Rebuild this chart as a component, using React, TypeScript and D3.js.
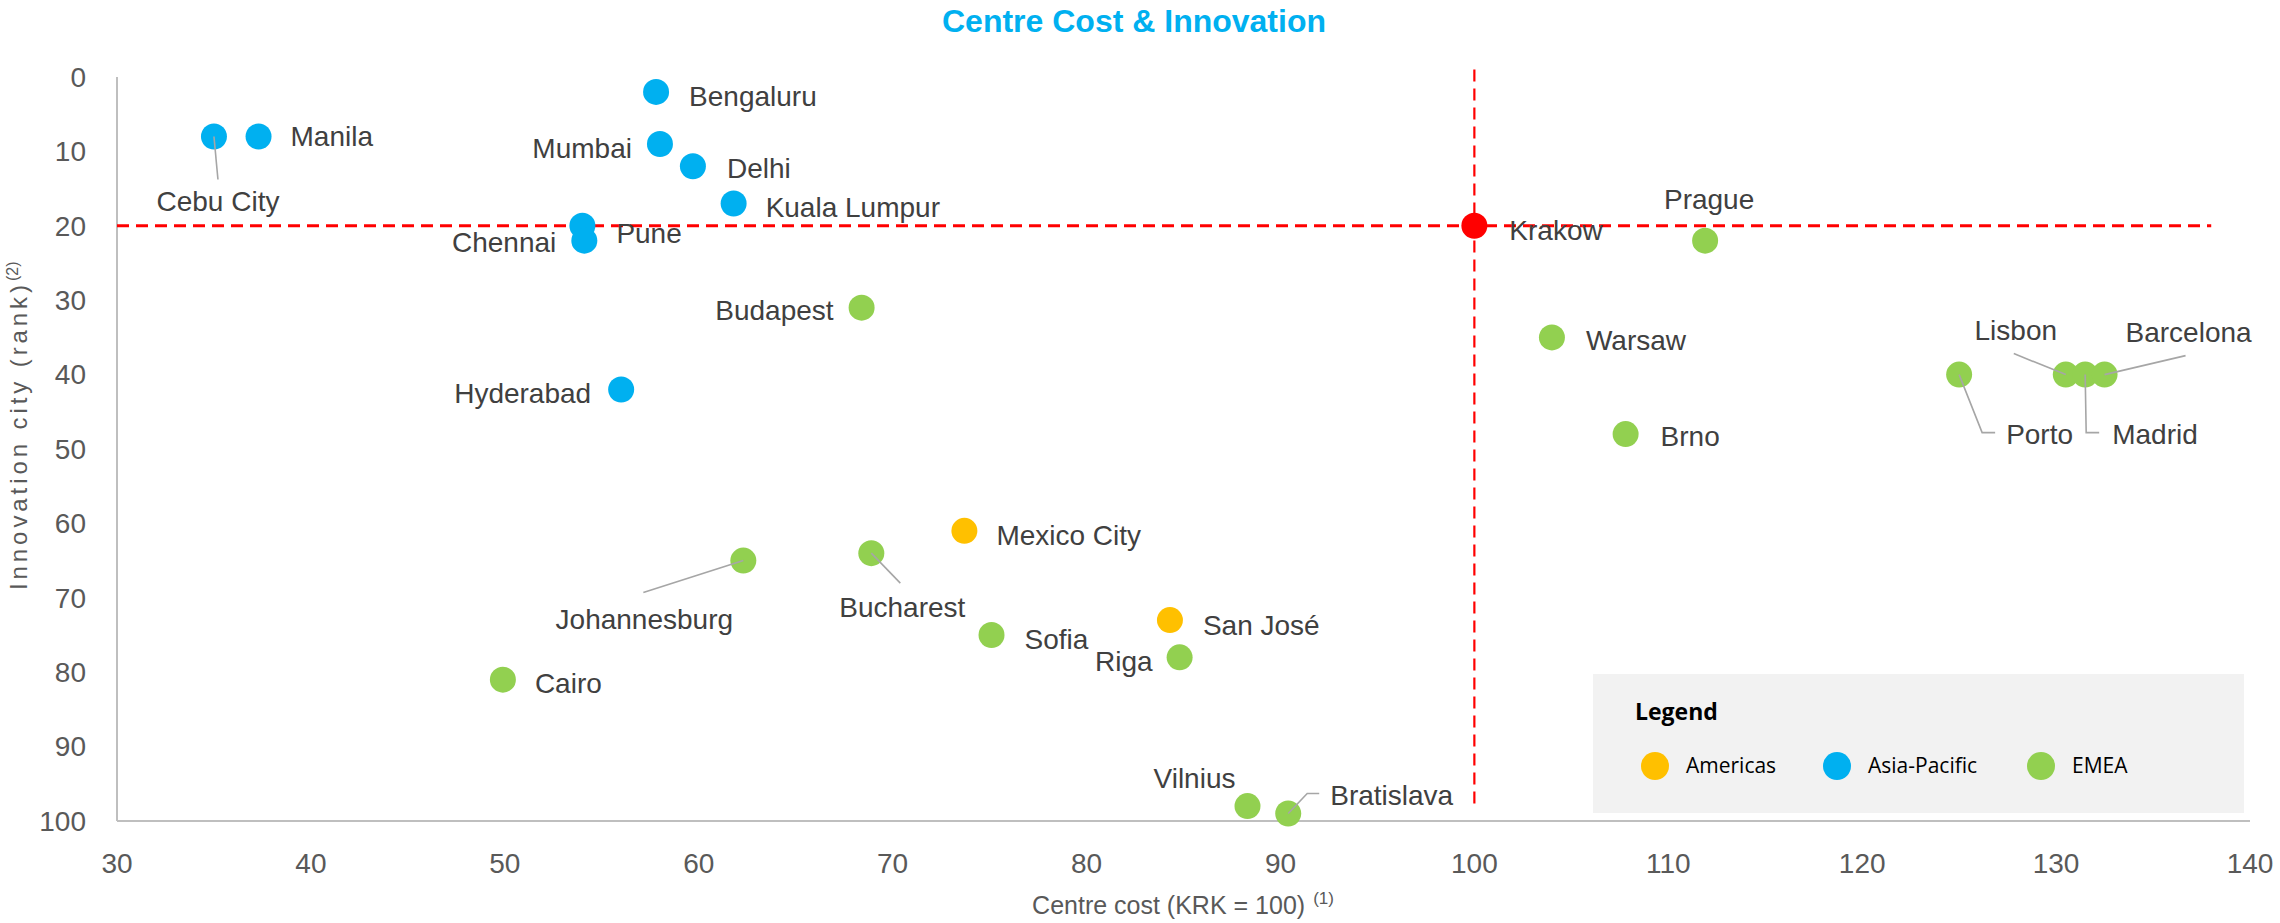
import * as d3 from 'd3'

// Centre cost (KRK = 100) vs innovation city rank
const cities = [
  'Bengaluru', 'Manila', 'Cebu City', 'Mumbai', 'Delhi', 'Kuala Lumpur', 'Pune', 'Chennai', 'Hyderabad',
  'Krakow', 'Prague', 'Budapest', 'Warsaw', 'Brno', 'Porto', 'Lisbon', 'Madrid', 'Barcelona',
  'Mexico City', 'Bucharest', 'Johannesburg', 'San José', 'Sofia', 'Riga', 'Cairo', 'Vilnius', 'Bratislava',
]
const centreCost = [
  57.8, 37.3, 35.0, 58.0, 59.7, 61.8, 54.0, 54.1, 56.0,
  100, 111.9, 68.4, 104.0, 107.8, 125.0, 130.5, 131.5, 132.5,
  73.7, 68.9, 62.3, 84.3, 75.1, 84.8, 49.9, 88.3, 90.4,
]
const innovationRank = [
  2, 8, 8, 9, 12, 17, 20, 22, 42,
  20, 22, 31, 35, 48, 40, 40, 40, 40,
  61, 64, 65, 73, 75, 78, 81, 98, 99,
]
const regions = [
  'Asia-Pacific', 'Asia-Pacific', 'Asia-Pacific', 'Asia-Pacific', 'Asia-Pacific', 'Asia-Pacific', 'Asia-Pacific', 'Asia-Pacific', 'Asia-Pacific',
  'EMEA', 'EMEA', 'EMEA', 'EMEA', 'EMEA', 'EMEA', 'EMEA', 'EMEA', 'EMEA',
  'Americas', 'EMEA', 'EMEA', 'Americas', 'EMEA', 'EMEA', 'EMEA', 'EMEA', 'EMEA',
]
const baselineCity = 'Krakow'
const baselineCost = 100
const baselineRank = 20

const xTicks = [30, 40, 50, 60, 70, 80, 90, 100, 110, 120, 130, 140]
const yTicks = [0, 10, 20, 30, 40, 50, 60, 70, 80, 90, 100]
const legendRegions = ['Americas', 'Asia-Pacific', 'EMEA']

const regionColor: Record<string, string> = {
  Americas: '#FFC000',
  'Asia-Pacific': '#00B0F0',
  EMEA: '#92D050',
}

// label placement relative to each dot (pixels)
type LabelPos = { dx: number; dy: number; anchor?: string; leader?: [number, number][] }
const labelPos: Record<string, LabelPos> = {
  Bengaluru: { dx: 33, dy: 4 },
  Manila: { dx: 32, dy: 0 },
  'Cebu City': { dx: 4, dy: 65, anchor: 'middle', leader: [[4, 43]] },
  Mumbai: { dx: -28, dy: 4, anchor: 'end' },
  Delhi: { dx: 34, dy: 2 },
  'Kuala Lumpur': { dx: 32, dy: 4 },
  Pune: { dx: 34, dy: 7 },
  Chennai: { dx: -28, dy: 2, anchor: 'end' },
  Hyderabad: { dx: -30, dy: 4, anchor: 'end' },
  Johannesburg: { dx: -99, dy: 59, anchor: 'middle', leader: [[-100, 32]] },
  Cairo: { dx: 32, dy: 4 },
  Budapest: { dx: -28, dy: 3, anchor: 'end' },
  'Mexico City': { dx: 32, dy: 4 },
  Bucharest: { dx: 31, dy: 54, anchor: 'middle', leader: [[29, 30]] },
  Sofia: { dx: 33, dy: 4 },
  'San José': { dx: 33, dy: 5 },
  Riga: { dx: -27, dy: 4, anchor: 'end' },
  Vilnius: { dx: -12, dy: -28, anchor: 'end' },
  Bratislava: { dx: 42, dy: -18, leader: [[19, -20], [31, -20]] },
  Krakow: { dx: 35, dy: 4 },
  Prague: { dx: 4, dy: -41, anchor: 'middle' },
  Warsaw: { dx: 34, dy: 3 },
  Brno: { dx: 35, dy: 2 },
  Lisbon: { dx: -50, dy: -44, anchor: 'middle', leader: [[-52, -21]] },
  Barcelona: { dx: 84, dy: -42, anchor: 'middle', leader: [[81, -19]] },
  Porto: { dx: 47, dy: 60, leader: [[23, 58], [36, 58]] },
  Madrid: { dx: 27, dy: 60, leader: [[1, 58], [14, 58]] },
}

const W = 2280
const H = 923
const FONT = '"Liberation Sans", Arial, sans-serif'

export default function App() {
  const x = d3.scaleLinear().domain([30, 140]).range([117, 2250])
  const y = d3.scaleLinear().domain([0, 100]).range([77, 821])

  const points = cities.map((city, i) => ({
    city,
    cx: x(centreCost[i]),
    cy: y(innovationRank[i]),
    color: city === baselineCity ? '#FF0000' : regionColor[regions[i]],
  }))

  const line = d3.line<[number, number]>()

  return (
    <svg width={W} height={H} style={{ position: 'absolute', left: 0, top: 0, background: '#fff' }} fontFamily={FONT}>
      {/* title */}
      <text x={1134} y={32} textAnchor="middle" fontSize={32} fontWeight="bold" fill="#00B0F0">
        Centre Cost &amp; Innovation
      </text>

      {/* axes */}
      <line x1={x(30)} x2={x(30)} y1={y(0)} y2={y(100)} stroke="#BFBFBF" strokeWidth={2} />
      <line x1={x(30)} x2={x(140)} y1={y(100)} y2={y(100)} stroke="#BFBFBF" strokeWidth={2} />
      {yTicks.map(t => (
        <text key={'y' + t} x={86} y={y(t)} dy="0.35em" textAnchor="end" fontSize={28} fill="#595959">{t}</text>
      ))}
      {xTicks.map(t => (
        <text key={'x' + t} x={x(t)} y={863} dy="0.35em" textAnchor="middle" fontSize={28} fill="#595959">{t}</text>
      ))}
      <text x={1183} y={914} textAnchor="middle" fontSize={25} fill="#595959">
        Centre cost (KRK = 100)<tspan fontSize={17} dx={8} dy={-10}>(1)</tspan>
      </text>
      <g transform="translate(27, 0) rotate(-90)">
        <text x={-590} y={0} textAnchor="start" fontSize={24} fill="#595959" textLength={305} lengthAdjust="spacing">
          Innovation city (rank)
        </text>
        <text x={-281} y={-9} textAnchor="start" fontSize={16} fill="#595959">(2)</text>
      </g>

      {/* reference lines through Krakow */}
      <line x1={x(30)} x2={x(138)} y1={y(baselineRank)} y2={y(baselineRank)}
        stroke="#FF0000" strokeWidth={3} strokeDasharray="12 7" />
      <line x1={x(baselineCost)} x2={x(baselineCost)} y1={y(-1)} y2={y(98.3)}
        stroke="#FF0000" strokeWidth={2.2} strokeDasharray="12 7" />

      {/* dots */}
      {points.map(p => (
        <circle key={p.city} cx={p.cx} cy={p.cy} r={13} fill={p.color} />
      ))}

      {/* leader lines */}
      {points.map(p => {
        const lp = labelPos[p.city]
        if (!lp?.leader) return null
        const pts: [number, number][] = [[p.cx, p.cy], ...lp.leader.map(([dx, dy]) => [p.cx + dx, p.cy + dy] as [number, number])]
        return <path key={'l' + p.city} d={line(pts) || ''} fill="none" stroke="#A6A6A6" strokeWidth={1.6} />
      })}

      {/* labels */}
      {points.map(p => {
        const lp = labelPos[p.city]
        return (
          <text key={'t' + p.city} x={p.cx + lp.dx} y={p.cy + lp.dy} dy="0.35em"
            textAnchor={lp.anchor || 'start'} fontSize={28} fill="#404040">
            {p.city}
          </text>
        )
      })}

      {/* legend */}
      <rect x={1593} y={674} width={651} height={139} fill="#F2F2F2" />
      <text x={1635} y={720} fontFamily='"Open Sans", sans-serif' fontWeight="bold" fontSize={23} fill="#000">Legend</text>
      {legendRegions.map((r, i) => {
        const cx = [1655, 1837, 2041][i]
        return (
          <g key={r}>
            <circle cx={cx} cy={766} r={14} fill={regionColor[r]} />
            <text x={cx + 31} y={766} dy="0.35em" fontFamily='"Open Sans", sans-serif' fontSize={21} fill="#000">{r}</text>
          </g>
        )
      })}
    </svg>
  )
}
